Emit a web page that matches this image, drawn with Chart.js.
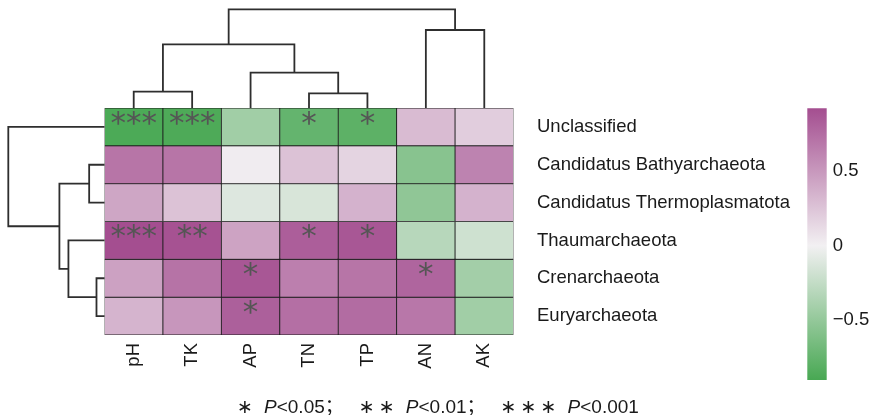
<!DOCTYPE html>
<html>
<head>
<meta charset="utf-8">
<title>Archaea vs soil properties</title>
<script src="https://cdn.jsdelivr.net/npm/chart.js@4.4.1/dist/chart.umd.min.js"></script>
<style>
  html, body { margin: 0; padding: 0; background: #fff; }
  #wrap { position: relative; width: 873px; height: 415px; }
  #wrap canvas { position: absolute; left: 0; top: 0; }
  #note {
    position: absolute; left: 235px; top: 394px; white-space: nowrap; color: #1a1a1a;
    font: 19px "Liberation Sans", Arial, "Noto Sans CJK SC", sans-serif; line-height: 21px;
  }
  #note .st { display: inline-block; width: 20px; text-align: center; font-family: "DejaVu Sans", sans-serif; }
  #note .st.last { margin-right: 9px; }
  #note .sc { margin-right: 13px; font-family: "Noto Sans CJK SC", sans-serif; }
</style>
</head>
<body>
<div id="wrap">
  <canvas id="heat" width="873" height="415"></canvas>
  <canvas id="colTree" width="873" height="415"></canvas>
  <canvas id="rowTree" width="873" height="415"></canvas>
  <canvas id="cbar" width="873" height="415"></canvas>
  <div id="note"><span class="st last">∗</span><i>P</i>&lt;0.05<span class="sc">；</span><span class="st">∗</span><span class="st last">∗</span><i>P</i>&lt;0.01<span class="sc">；</span><span class="st">∗</span><span class="st">∗</span><span class="st last">∗</span><i>P</i>&lt;0.001</div>
</div>
<script>
// columns (soil properties) and rows (archaeal phyla), in clustered order
const colLabels = ['pH', 'TK', 'AP', 'TN', 'TP', 'AN', 'AK'];
const rowLabels = ['Unclassified', 'Candidatus Bathyarchaeota', 'Candidatus Thermoplasmatota',
  'Thaumarchaeota', 'Crenarchaeota', 'Euryarchaeota'];

// correlation coefficients, one array per row
const rUnclassified = [-0.88, -0.87, -0.43, -0.75, -0.79, 0.30, 0.20];
const rBathy        = [0.70, 0.70, 0.02, 0.26, 0.16, -0.56, 0.62];
const rThermo       = [0.42, 0.26, -0.11, -0.14, 0.35, -0.52, 0.35];
const rThaum        = [0.92, 0.90, 0.44, 0.83, 0.87, -0.31, -0.19];
const rCren         = [0.45, 0.71, 0.87, 0.64, 0.70, 0.79, -0.42];
const rEury         = [0.34, 0.51, 0.82, 0.73, 0.75, 0.69, -0.43];
const rValues = [rUnclassified, rBathy, rThermo, rThaum, rCren, rEury];

// significance marks
const sigUnclassified = ['***', '***', '', '*', '*', '', ''];
const sigBathy        = ['', '', '', '', '', '', ''];
const sigThermo       = ['', '', '', '', '', '', ''];
const sigThaum        = ['***', '**', '', '*', '*', '', ''];
const sigCren         = ['', '', '*', '', '', '*', ''];
const sigEury         = ['', '', '*', '', '', '', ''];
const sigMarks = [sigUnclassified, sigBathy, sigThermo, sigThaum, sigCren, sigEury];

// dendrogram merges: [child a, child b, height]; new nodes numbered after leaves
const colLinks = [[0, 1, 16.3], [3, 4, 14.7], [2, 8, 35.3], [7, 9, 63.7], [5, 6, 78], [10, 11, 98.7]];
const rowLinks = [[4, 5, 8], [1, 2, 15.3], [3, 6, 36], [7, 8, 45], [0, 9, 96]];

// colour scale
const vMin = -0.9, vMax = 0.92;
const cbarTicks = [-0.5, 0, 0.5];

const cmapStops = [[-0.9, [72, 168, 83]], [0, [242, 240, 242]], [0.92, [164, 78, 144]]];
function rgb(c) { return `rgb(${c.map(Math.round).join(',')})`; }
function cmap(v) {
  if (v <= cmapStops[0][0]) return rgb(cmapStops[0][1]);
  for (let i = 1; i < cmapStops.length; i++) {
    const [v0, c0] = cmapStops[i - 1], [v1, c1] = cmapStops[i];
    if (v <= v1) {
      const t = (v - v0) / (v1 - v0);
      return rgb(c0.map((ch, k) => ch + (c1[k] - ch) * t));
    }
  }
  return rgb(cmapStops[cmapStops.length - 1][1]);
}

Chart.defaults.font.family = '"Liberation Sans", Arial, sans-serif';
Chart.defaults.color = '#1a1a1a';
Chart.defaults.animation = false;
Chart.defaults.responsive = false;
Chart.defaults.plugins.legend.display = false;
Chart.defaults.plugins.tooltip.enabled = false;

const W = 873, H = 415;
// heatmap frame
const hmLeft = 104.5, hmRight = 513.5, hmTop = 108, hmBottom = 335;
const labelFont = { size: 18.5 };

const starPlugin = {
  id: 'stars',
  afterDatasetsDraw(chart) {
    const { ctx, scales: { x, y } } = chart;
    ctx.save();
    ctx.font = '31px "DejaVu Sans"';
    ctx.fillStyle = '#555';
    ctx.textAlign = 'center';
    ctx.textBaseline = 'middle';
    sigMarks.forEach((row, r) => row.forEach((s, c) => {
      if (s) ctx.fillText(s, x.getPixelForValue(c), y.getPixelForValue(r) - 2);
    }));
    ctx.restore();
  }
};

new Chart(document.getElementById('heat'), {
  type: 'bar',
  data: {
    labels: colLabels,
    datasets: rValues.map((row, r) => ({
      data: row.map(() => [r - 0.5, r + 0.5]),
      backgroundColor: row.map(cmap),
      borderColor: '#1e1e1e',
      borderWidth: 0.8,
      borderSkipped: false,
      grouped: false,
      barPercentage: 1,
      categoryPercentage: 1
    }))
  },
  options: {
    layout: { padding: { left: hmLeft, top: hmTop, right: W - hmRight - 300, bottom: H - hmBottom - 45 } },
    scales: {
      x: {
        grid: { display: false, drawTicks: false },
        border: { display: false },
        ticks: { minRotation: 90, maxRotation: 90, padding: 8, font: labelFont },
        afterFit: s => { s.height = 45; }
      },
      y: {
        type: 'linear', position: 'right', min: -0.5, max: 5.5, reverse: true,
        grid: { display: false, drawTicks: false },
        border: { display: false },
        afterBuildTicks: s => { s.ticks = rowLabels.map((_, i) => ({ value: i })); },
        ticks: { padding: 23.5, font: labelFont, callback: v => rowLabels[v] },
        afterFit: s => { s.width = 300; }
      }
    }
  },
  plugins: [starPlugin]
});

function treeSegments(nLeaves, links) {
  const pos = [], hgt = [];
  for (let i = 0; i < nLeaves; i++) { pos.push(i); hgt.push(0); }
  return links.map(([a, b, h]) => {
    const seg = [[pos[a], hgt[a]], [pos[a], h], [pos[b], h], [pos[b], hgt[b]]];
    pos.push((pos[a] + pos[b]) / 2);
    hgt.push(h);
    return seg;
  });
}

const lineStyle = { borderColor: '#2e2e2e', borderWidth: 1.8, pointRadius: 0, showLine: true, clip: false, tension: 0 };

// column dendrogram (top)
new Chart(document.getElementById('colTree'), {
  type: 'scatter',
  data: {
    datasets: treeSegments(colLabels.length, colLinks).map(seg => ({
      ...lineStyle, data: seg.map(([p, h]) => ({ x: p, y: h }))
    }))
  },
  options: {
    layout: { padding: { left: hmLeft, right: W - hmRight, top: 9.3, bottom: H - hmTop } },
    scales: {
      x: { display: false, min: -0.5, max: colLabels.length - 0.5 },
      y: { display: false, min: 0, max: Math.max(...colLinks.map(l => l[2])) }
    }
  }
});

// row dendrogram (left)
new Chart(document.getElementById('rowTree'), {
  type: 'scatter',
  data: {
    datasets: treeSegments(rowLabels.length, rowLinks).map(seg => ({
      ...lineStyle, data: seg.map(([p, h]) => ({ x: h, y: p }))
    }))
  },
  options: {
    layout: { padding: { left: 8.3, right: W - hmLeft, top: hmTop, bottom: H - hmBottom } },
    scales: {
      x: { display: false, reverse: true, min: 0, max: Math.max(...rowLinks.map(l => l[2])) },
      y: { display: false, reverse: true, min: -0.5, max: rowLabels.length - 0.5 }
    }
  }
});

// colour bar
function cbarFill(context) {
  const chart = context.chart;
  if (!chart.chartArea) return null;
  const y = chart.scales.y;
  const g = chart.ctx.createLinearGradient(0, y.getPixelForValue(vMin), 0, y.getPixelForValue(vMax));
  cmapStops.forEach(([v, c]) => g.addColorStop((v - vMin) / (vMax - vMin), rgb(c)));
  return g;
}

new Chart(document.getElementById('cbar'), {
  type: 'bar',
  data: {
    labels: [''],
    datasets: [{ data: [[vMin, vMax]], backgroundColor: cbarFill, borderWidth: 0, barPercentage: 1, categoryPercentage: 1 }]
  },
  options: {
    layout: { padding: { left: 807.3, top: 108.3, right: W - 826.7 - 46, bottom: H - 380 } },
    scales: {
      x: { display: false },
      y: {
        position: 'right', min: vMin, max: vMax,
        grid: { display: false, drawTicks: false },
        border: { display: false },
        afterBuildTicks: s => { s.ticks = cbarTicks.map(v => ({ value: v })); },
        ticks: { padding: 6, font: labelFont, callback: v => v < 0 ? '\u2212' + Math.abs(v) : String(v) },
        afterFit: s => { s.width = 46; }
      }
    }
  }
});
</script>
</body>
</html>
